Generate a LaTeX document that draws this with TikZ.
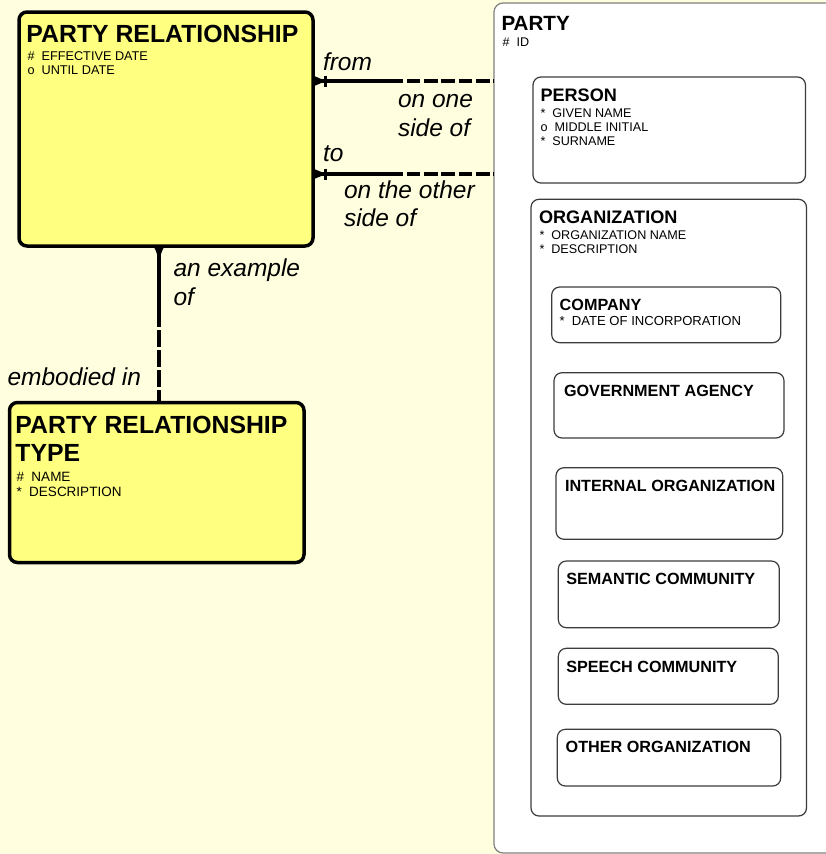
\documentclass[tikz,border=0pt]{standalone}
\usepackage{fontspec}
\setmainfont{Liberation Sans}
\definecolor{pagebg}{RGB}{255,255,224}
\definecolor{entyellow}{RGB}{255,255,128}
\definecolor{subline}{RGB}{60,60,60}
\definecolor{partyline}{RGB}{128,128,128}
\begin{document}
\begin{tikzpicture}[x=1pt,y=-1pt,
  every node/.style={inner sep=0pt, outer sep=0pt},
  yellowbox/.style={draw=black, line width=3.5pt, fill=entyellow, rounded corners=8pt, anchor=north west},
  partybox/.style={draw=partyline, line width=1.2pt, fill=white, rounded corners=9pt, anchor=north west},
  subbox/.style={draw=subline, line width=1.2pt, fill=white, rounded corners=8pt, anchor=north west},
  txt/.style={anchor=base west},
  bigtitle/.style={txt, font=\fontsize{24.8}{28}\selectfont\bfseries},
  partytitle/.style={txt, font=\fontsize{20.6}{24}\selectfont\bfseries},
  midtitle/.style={txt, font=\fontsize{18.1}{21}\selectfont\bfseries},
  smalltitle/.style={txt, font=\fontsize{16.2}{19}\selectfont\bfseries},
  attrA/.style={txt, font=\fontsize{12.7}{14}\selectfont},
  attrB/.style={txt, font=\fontsize{13.5}{15}\selectfont},
  attrC/.style={txt, font=\fontsize{12.6}{14}\selectfont},
  attrD/.style={txt, font=\fontsize{13.1}{14}\selectfont},
  rolelabel/.style={txt, font=\fontsize{24.5}{28}\selectfont\itshape},
  rel/.style={line width=3.2pt, draw=black},
  reldash/.style={rel, dash pattern=on 13.5pt off 3.8pt, dash phase=13.5pt},
  reldashv/.style={rel, dash pattern=on 16.5pt off 3.5pt, dash phase=16.5pt},
  crowfoot/.style={fill=black},
]
\useasboundingbox (0,0) rectangle (825,854);
\fill[pagebg] (0,0) rectangle (825,854);

% ---------- PARTY supertype with its subtypes ----------
\node[partybox, minimum width=360pt, minimum height=850pt] (party) at (494,3) {};
\node[partytitle] (party-t) at (501.5,30) {PARTY};
\node[attrC] (party-a1) at (502.5,46) {\#\ \ ID};

\node[subbox, minimum width=272.5pt, minimum height=106pt] (person) at (533,77) {};
\node[midtitle] (person-t) at (540.5,101.7) {PERSON};
\node[attrC] (person-a1) at (540.5,117.3) {*\ \ GIVEN NAME};
\node[attrC] (person-a2) at (540.5,131.7) {o\ \ MIDDLE INITIAL};
\node[attrC] (person-a3) at (540.5,145.7) {*\ \ SURNAME};

\node[subbox, minimum width=275.5pt, minimum height=616.7pt] (org) at (531,199.3) {};
\node[midtitle] (org-t) at (539,223.3) {ORGANIZATION};
\node[attrC] (org-a1) at (539.5,239.3) {*\ \ ORGANIZATION NAME};
\node[attrC] (org-a2) at (539.5,253.3) {*\ \ DESCRIPTION};

\node[subbox, minimum width=229pt, minimum height=55.7pt] (company) at (551.7,287) {};
\node[smalltitle] (company-t) at (559.7,310) {COMPANY};
\node[attrD] (company-a1) at (559.5,325) {*\ \ DATE OF INCORPORATION};

\node[subbox, minimum width=230pt, minimum height=65.3pt] (gov) at (554,372.7) {};
\node[smalltitle] (gov-t) at (564,396.7) {GOVERNMENT AGENCY};

\node[subbox, minimum width=226.7pt, minimum height=71.6pt] (internal) at (556,467.7) {};
\node[smalltitle] (internal-t) at (565,491) {INTERNAL ORGANIZATION};

\node[subbox, minimum width=221pt, minimum height=66.7pt] (semantic) at (558.3,561) {};
\node[smalltitle] (semantic-t) at (566.3,584.3) {SEMANTIC COMMUNITY};

\node[subbox, minimum width=220pt, minimum height=56pt] (speech) at (558.3,648.3) {};
\node[smalltitle] (speech-t) at (566.3,672.3) {SPEECH COMMUNITY};

\node[subbox, minimum width=223.4pt, minimum height=56.7pt] (other) at (557.3,729.3) {};
\node[smalltitle] (other-t) at (565.7,752.7) {OTHER ORGANIZATION};

% ---------- PARTY RELATIONSHIP ----------
\node[yellowbox, minimum width=294pt, minimum height=234pt] (pr) at (19,12) {};
\node[bigtitle] (pr-t) at (26.5,42) {PARTY RELATIONSHIP};
\node[attrA] (pr-a1) at (27.5,60) {\#\ \ EFFECTIVE DATE};
\node[attrA] (pr-a2) at (27.5,74) {o\ \ UNTIL DATE};

% ---------- PARTY RELATIONSHIP TYPE ----------
\node[yellowbox, minimum width=294.5pt, minimum height=160pt] (prt) at (9.5,402.5) {};
\node[bigtitle] (prt-t1) at (15.5,433.3) {PARTY RELATIONSHIP};
\node[bigtitle] (prt-t2) at (15.5,461.7) {TYPE};
\node[attrB] (prt-a1) at (16.5,481) {\#\ \ NAME};
\node[attrB] (prt-a2) at (16.5,496) {*\ \ DESCRIPTION};

% ---------- relationship: from / on one side of ----------
\coordinate (from-a) at (pr.east |- 0,81);
\coordinate (from-m) at (403,81);
\coordinate (from-b) at (party.west |- 0,81);
\draw[rel] (from-a) -- (from-m);
\draw[reldash] (from-m) -- (from-b);
\fill[crowfoot] (from-a) ++(0,-5.5) -- ++(13,5.5) -- ++(-13,5.5) -- cycle;
\draw[line width=3pt] (from-a) ++(12.5,-5.5) -- ++(0,11);

% ---------- relationship: to / on the other side of ----------
\coordinate (to-a) at (pr.east |- 0,174);
\coordinate (to-m) at (403,174);
\coordinate (to-b) at (party.west |- 0,174);
\draw[rel] (to-a) -- (to-m);
\draw[reldash] (to-m) -- (to-b);
\fill[crowfoot] (to-a) ++(0,-5.5) -- ++(13,5.5) -- ++(-13,5.5) -- cycle;
\draw[line width=3pt] (to-a) ++(12.5,-5.5) -- ++(0,11);

% ---------- relationship: an example of / embodied in ----------
\coordinate (ex-a) at (pr.south -| 159,0);
\coordinate (ex-m) at (159,326.5);
\coordinate (ex-b) at (prt.north -| 159,0);
\draw[rel] (ex-a) -- (ex-m);
\draw[reldashv] (ex-m) -- (ex-b);
\fill[crowfoot] (ex-a) ++(-5.5,0) .. controls (157,253) .. (159,264)
  .. controls (161,253) .. (164.5,246) -- cycle;

% ---------- role names ----------
\node[rolelabel] (lbl-from) at (323,70) {from};
\node[rolelabel] (lbl-one1) at (398,107.3) {on one};
\node[rolelabel] (lbl-one2) at (398,136) {side of};
\node[rolelabel] (lbl-to) at (323,161.7) {to};
\node[rolelabel] (lbl-oth1) at (344,198.3) {on the other};
\node[rolelabel] (lbl-oth2) at (344,226.7) {side of};
\node[rolelabel] (lbl-ex1) at (173.5,276.7) {an example};
\node[rolelabel] (lbl-ex2) at (173.5,305) {of};
\node[rolelabel] (lbl-emb) at (7.5,385) {embodied in};
\end{tikzpicture}
\end{document}
